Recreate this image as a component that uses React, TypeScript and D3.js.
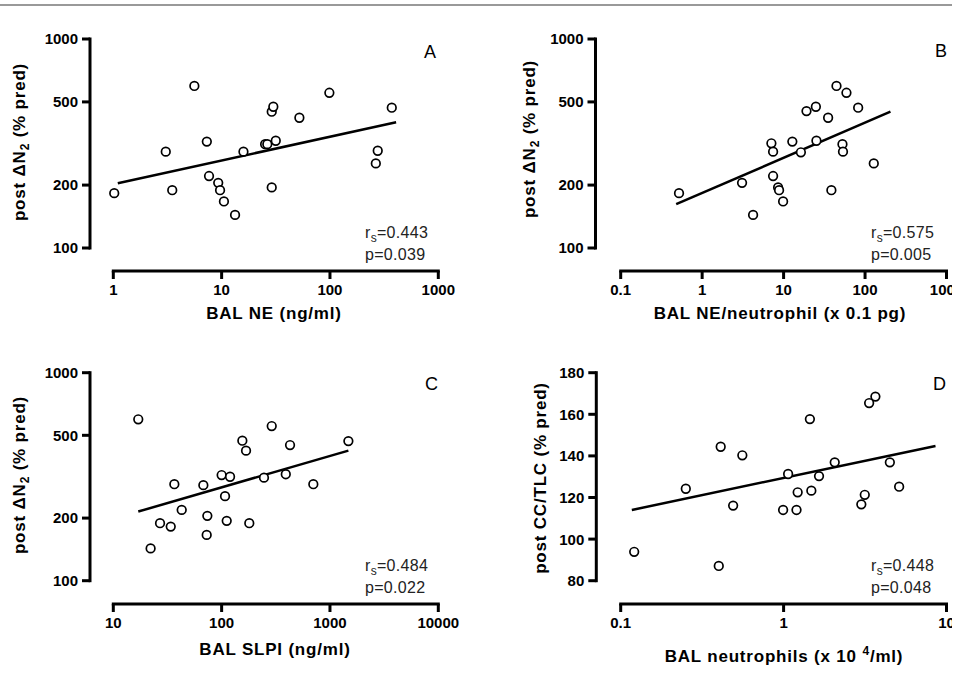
import React from 'react';
import * as d3 from 'd3';

// panel A: BAL NE vs post dN2
const aX = [1.02, 3.05, 3.5, 5.6, 7.3, 7.65, 9.3, 9.67, 10.5, 13.3, 15.9, 25.2, 26.4, 29, 29, 30, 31.6, 52.2, 98.7, 265, 276, 372];
const aY = [183, 289, 189, 596, 323, 221, 205, 189, 167, 144, 289, 314, 314, 195, 449, 474, 326, 420, 553, 254, 292, 469];
const aFit = [[1.1, 204], [408, 400]];

// panel B: BAL NE/neutrophil vs post dN2
const bX = [0.52, 3.09, 4.22, 7.08, 7.43, 7.43, 8.56, 8.8, 9.86, 12.8, 16.3, 19.1, 24.9, 25.3, 35.2, 38.6, 44.6, 52.8, 53.6, 59.1, 82.3, 128];
const bY = [183, 205, 144, 317, 289, 221, 195, 189, 167, 323, 287, 452, 474, 326, 420, 189, 596, 314, 289, 553, 469, 254];
const bFit = [[0.48, 162], [205, 449]];

// panel C: BAL SLPI vs post dN2
const cX = [17, 22.1, 27, 33.9, 36.6, 42.8, 67.8, 72.8, 73.8, 100, 107.5, 111.4, 119.6, 155.3, 168, 180, 246, 290, 391, 428, 702, 1479];
const cY = [597, 143, 189, 182, 291, 219, 288, 166, 205, 322, 255, 194, 316, 471, 422, 189, 313, 554, 325, 449, 291, 469];
const cFit = [[17, 215], [1479, 422]];

// panel D: BAL neutrophils vs post CC/TLC
const dX = [0.121, 0.251, 0.4, 0.411, 0.49, 0.558, 0.993, 1.066, 1.2, 1.22, 1.45, 1.48, 1.65, 2.06, 3.0, 3.15, 3.35, 3.66, 4.49, 5.12];
const dY = [93.9, 124.2, 87.1, 144.4, 116.1, 140.3, 114, 131.3, 114, 122.5, 157.7, 123.3, 130.3, 136.9, 116.7, 121.3, 165.4, 168.5, 136.9, 125.2];
const dFit = [[0.117, 114], [8.56, 144.8]];

const dn2Ticks = [100, 200, 500, 1000];
const cctlcTicks = [80, 100, 120, 140, 160, 180];
const neTicks = [1, 10, 100, 1000];
const neNeutTicks = [0.1, 1, 10, 100, 1000];
const slpiTicks = [10, 100, 1000, 10000];
const neutTicks = [0.1, 1, 10];

const stats = [
  ['0.443', '0.039'],
  ['0.575', '0.005'],
  ['0.484', '0.022'],
  ['0.448', '0.048'],
];

const FONT = 'Liberation Sans, Arial, Helvetica, sans-serif';

const dn2Title = (
  <>
    post ΔN<tspan dy={4} fontSize={12}>2</tspan>
    <tspan dy={-4}> (% pred)</tspan>
  </>
);

const panels = [
  {
    letter: 'A', xs: aX, ys: aY, fit: aFit, st: stats[0],
    xDomain: [1, 1000], xRange: [113.3, 438.3], xTicks: neTicks,
    yLog: true, yDomain: [100, 1000], yRange: [248, 39], yTicks: dn2Ticks,
    axisX: 90, axisY: 271, tickBase: 295,
    xTitle: <>BAL NE (ng/ml)</>, xTitleX: 274, xTitleY: 319,
    yTitle: dn2Title, yTitleX: 25, yTitleY: 142,
    letterX: 424, letterY: 58, statX: 365, statY: 238,
  },
  {
    letter: 'B', xs: bX, ys: bY, fit: bFit, st: stats[1],
    xDomain: [0.1, 1000], xRange: [620.7, 946.5], xTicks: neNeutTicks,
    yLog: true, yDomain: [100, 1000], yRange: [248, 39], yTicks: dn2Ticks,
    axisX: 595.5, axisY: 271, tickBase: 295,
    xTitle: <>BAL NE/neutrophil (x 0.1 pg)</>, xTitleX: 780, xTitleY: 319,
    yTitle: dn2Title, yTitleX: 535, yTitleY: 139,
    letterX: 935, letterY: 57, statX: 871, statY: 238,
  },
  {
    letter: 'C', xs: cX, ys: cY, fit: cFit, st: stats[2],
    xDomain: [10, 10000], xRange: [113.3, 438.3], xTicks: slpiTicks,
    yLog: true, yDomain: [100, 1000], yRange: [580.7, 372.7], yTicks: dn2Ticks,
    axisX: 90, axisY: 604, tickBase: 628,
    xTitle: <>BAL SLPI (ng/ml)</>, xTitleX: 275, xTitleY: 655,
    yTitle: dn2Title, yTitleX: 25, yTitleY: 475,
    letterX: 425, letterY: 390, statX: 365, statY: 571,
  },
  {
    letter: 'D', xs: dX, ys: dY, fit: dFit, st: stats[3],
    xDomain: [0.1, 10], xRange: [620.7, 946.5], xTicks: neutTicks,
    yLog: false, yDomain: [80, 180], yRange: [580.7, 372.7], yTicks: cctlcTicks,
    axisX: 596.3, axisY: 604, tickBase: 628,
    xTitle: (
      <>
        BAL neutrophils (x 10 <tspan dy={-7} fontSize={12}>4</tspan>
        <tspan dy={7}>/ml)</tspan>
      </>
    ),
    xTitleX: 784, xTitleY: 662,
    yTitle: <>post CC/TLC (% pred)</>, yTitleX: 546, yTitleY: 478,
    letterX: 933, letterY: 390, statX: 871, statY: 571,
  },
];

const Panel = ({ p }: { p: any }) => {
  const x = d3.scaleLog().domain(p.xDomain).range(p.xRange);
  const y = p.yLog
    ? d3.scaleLog().domain(p.yDomain).range(p.yRange)
    : d3.scaleLinear().domain(p.yDomain).range(p.yRange);
  const line = d3
    .line<number[]>()
    .x((d) => x(d[0]))
    .y((d) => y(d[1]));

  return (
    <g fontFamily={FONT}>
      {/* y axis */}
      <line x1={p.axisX} x2={p.axisX} y1={y(p.yDomain[0]) + 1.5} y2={y(p.yDomain[1]) - 1.5} stroke="#000" strokeWidth={3} />
      {p.yTicks.map((t: number) => (
        <g key={t}>
          <line x1={p.axisX - 8} x2={p.axisX} y1={y(t)} y2={y(t)} stroke="#000" strokeWidth={3} />
          <text x={p.axisX - 12} y={y(t)} dy="0.36em" textAnchor="end" fontSize={15} fontWeight="bold">
            {t}
          </text>
        </g>
      ))}
      {/* x axis */}
      <line x1={x(p.xDomain[0]) - 1.5} x2={x(p.xDomain[1]) + 1.5} y1={p.axisY} y2={p.axisY} stroke="#000" strokeWidth={3} />
      {p.xTicks.map((t: number) => (
        <g key={t}>
          <line x1={x(t)} x2={x(t)} y1={p.axisY} y2={p.axisY + 8} stroke="#000" strokeWidth={3} />
          <text x={x(t)} y={p.tickBase} textAnchor="middle" fontSize={15} fontWeight="bold">
            {t}
          </text>
        </g>
      ))}
      {/* titles */}
      <text x={p.xTitleX} y={p.xTitleY} textAnchor="middle" fontSize={17} fontWeight="bold" letterSpacing={0.8}>
        {p.xTitle}
      </text>
      <text
        transform={`translate(${p.yTitleX},${p.yTitleY}) rotate(-90)`}
        textAnchor="middle"
        fontSize={17}
        fontWeight="bold"
        letterSpacing={0.8}
      >
        {p.yTitle}
      </text>
      <text x={p.letterX} y={p.letterY} fontSize={18}>
        {p.letter}
      </text>
      {/* fit */}
      <path d={line(p.fit) || ''} fill="none" stroke="#000" strokeWidth={2.5} />
      {p.xs.map((v: number, i: number) => (
        <circle key={i} cx={x(v)} cy={y(p.ys[i])} r={4.3} fill="#fff" stroke="#000" strokeWidth={1.7} />
      ))}
      {/* stats */}
      <text x={p.statX} y={p.statY} fontSize={16} fill="#222" letterSpacing={0.3}>
        r<tspan dy={4} fontSize={12}>s</tspan>
        <tspan dy={-4}>={p.st[0]}</tspan>
      </text>
      <text x={p.statX} y={p.statY + 22} fontSize={16} fill="#222" letterSpacing={0.3}>
        p={p.st[1]}
      </text>
    </g>
  );
};

export default function App() {
  return (
    <svg width={958} height={673} style={{ position: 'absolute', left: 0, top: 0, background: '#fff' }}>
      <defs>
        <clipPath id="clip">
          <rect x={0} y={0} width={952} height={673} />
        </clipPath>
      </defs>
      <rect width={958} height={673} fill="#fff" />
      <g clipPath="url(#clip)">
        <line x1={0} x2={952} y1={5} y2={5} stroke="#777" strokeWidth={1.5} />
        {panels.map((p) => (
          <Panel key={p.letter} p={p} />
        ))}
      </g>
    </svg>
  );
}
